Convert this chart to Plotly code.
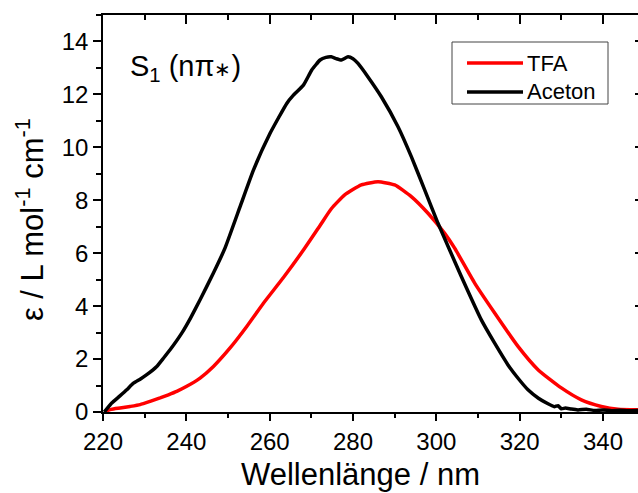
import plotly.graph_objects as go

# Aceton (black)
aceton_wl = [220.3, 222.1, 224.0, 225.7, 227.3, 229.0, 230.5, 232.9, 234.5, 236.1, 238.9, 241.0,
             243.3, 246.5, 249.3, 252.9, 256.1, 260.1, 264.1, 265.7, 268.1, 270.1, 272.1, 273.5,
             274.8, 276.0, 277.2, 278.8, 280.0, 281.2, 283.6, 286.8, 290.8, 294.0, 297.2, 300.4,
             303.2, 306.0, 308.5, 310.8, 314.0, 317.2, 320.0, 322.0, 324.5, 326.8, 328.3, 329.2,
             330.0, 331.0, 332.4, 334.0, 336.0, 338.0, 340.0, 342.0, 344.0, 346.0, 348.5]
aceton_eps = [0.0, 0.34, 0.6, 0.84, 1.09, 1.25, 1.41, 1.72, 2.03, 2.35, 2.98, 3.55,
              4.24, 5.25, 6.2, 7.76, 9.14, 10.53, 11.66, 11.97, 12.35, 12.92, 13.3, 13.4,
              13.42, 13.35, 13.3, 13.42, 13.35, 13.17, 12.66, 11.91, 10.78, 9.65, 8.39, 7.13,
              6.12, 5.12, 4.25, 3.48, 2.6, 1.78, 1.2, 0.84, 0.52, 0.31, 0.2, 0.24,
              0.12, 0.15, 0.11, 0.08, 0.1, 0.06, 0.08, 0.05, 0.07, 0.05, 0.06]

# TFA (red)
tfa_wl = [220.5, 222.0, 224.1, 226.5, 228.9, 231.3, 233.7, 235.7, 237.7, 240.1, 243.3, 246.5,
          250.5, 254.5, 258.5, 263.3, 268.1, 272.1, 274.8, 278.0, 282.0, 286.0, 290.0, 294.0,
          298.0, 302.0, 304.4, 309.2, 314.0, 319.6, 324.4, 330.0, 334.8, 339.6, 343.6, 348.5]
tfa_eps = [0.03, 0.1, 0.15, 0.21, 0.28, 0.4, 0.53, 0.65, 0.78, 0.97, 1.28, 1.72,
           2.42, 3.23, 4.11, 5.08, 6.12, 7.05, 7.68, 8.2, 8.58, 8.7, 8.58, 8.14,
           7.51, 6.75, 6.19, 4.87, 3.74, 2.48, 1.6, 0.91, 0.46, 0.21, 0.1, 0.08]

series_names = ["TFA", "Aceton"]
series_colors = ["#ff0000", "#000000"]

x_ticks = [220, 240, 260, 280, 300, 320, 340]
y_ticks = [0, 2, 4, 6, 8, 10, 12, 14]
x_range = [220, 348.4]
y_range = [0, 15]

FONT = "Liberation Sans, Arial, sans-serif"

# plot area in pixels (for converting legend layout positions to paper coords)
W, H = 638, 493
ML, MR, MT, MB = 103, 0, 15, 81
PW, PH = W - ML - MR, H - MT - MB


def px(x):
    return (x - ML) / PW


def py(y):
    return (H - MB - y) / PH


fig = go.Figure()
fig.add_trace(go.Scatter(x=tfa_wl, y=tfa_eps, mode="lines", name=series_names[0], showlegend=False,
                         line=dict(color=series_colors[0], width=3.5, shape="spline", smoothing=0.5)))
fig.add_trace(go.Scatter(x=aceton_wl, y=aceton_eps, mode="lines", name=series_names[1], showlegend=False,
                         line=dict(color=series_colors[1], width=3.5, shape="spline", smoothing=0.4)))
# helper trace for the mirrored top/right axes
fig.add_trace(go.Scatter(x=[x_range[0]], y=[y_range[0]], xaxis="x2", yaxis="y2", mode="markers",
                         marker=dict(opacity=0), showlegend=False, hoverinfo="skip"))

# legend drawn as box + line samples + labels
shapes = [dict(type="rect", xref="paper", yref="paper", x0=px(452), x1=px(608), y0=py(104), y1=py(42),
               line=dict(color="#444444", width=1), fillcolor="white", layer="above")]
annotations = []
for i, (name, col) in enumerate(zip(series_names, series_colors)):
    yy = 63 + 29 * i
    shapes.append(dict(type="line", xref="paper", yref="paper", x0=px(467), x1=px(523),
                       y0=py(yy), y1=py(yy), line=dict(color=col, width=3.5), layer="above"))
    annotations.append(dict(text=name, xref="paper", yref="paper", x=px(525), y=py(yy),
                            xanchor="left", yanchor="middle", showarrow=False,
                            font=dict(size=22, family=FONT, color="black")))

annotations += [
    dict(text="S<sub>1</sub> (nπ<span style='font-size:20px'>∗</span>)",
         xref="paper", yref="paper", x=0.154, y=0.866,
         xanchor="center", yanchor="middle", showarrow=False,
         font=dict(size=29, family=FONT, color="black")),
    dict(text="Wellenlänge / nm", xref="paper", yref="paper", x=0.481, y=-0.158,
         xanchor="center", yanchor="middle", showarrow=False,
         font=dict(size=31, family=FONT, color="black")),
    dict(text="ε / L mol<sup>-1</sup> cm<sup>-1</sup>", xref="paper", yref="paper",
         x=-0.136, y=0.484, xanchor="center", yanchor="middle", textangle=-90,
         showarrow=False, font=dict(size=31, family=FONT, color="black")),
]

fig.update_layout(
    width=W, height=H,
    margin=dict(l=ML, r=MR, t=MT, b=MB),
    paper_bgcolor="white", plot_bgcolor="white",
    font=dict(family=FONT, color="black"),
    showlegend=False,
    xaxis=dict(range=x_range, tickvals=x_ticks, ticks="outside", ticklen=7, tickwidth=1.5,
               tickcolor="black", showline=True, linewidth=1.5, linecolor="black",
               showgrid=False, zeroline=False, tickfont=dict(size=24, family=FONT),
               minor=dict(dtick=10, tick0=230, ticks="outside", ticklen=4, tickwidth=1.5,
                          tickcolor="black", showgrid=False)),
    yaxis=dict(range=y_range, tickvals=y_ticks, ticks="outside", ticklen=8, tickwidth=1.5,
               tickcolor="black", showline=True, linewidth=1.5, linecolor="black",
               showgrid=False, zeroline=False, tickfont=dict(size=24, family=FONT),
               minor=dict(dtick=1, tick0=1, ticks="outside", ticklen=5, tickwidth=1.5,
                          tickcolor="black", showgrid=False)),
    xaxis2=dict(range=x_range, overlaying="x", side="top", anchor="y2", tickvals=x_ticks,
                ticks="inside", ticklen=9, tickwidth=1.5, tickcolor="black",
                showticklabels=False, showline=True, linewidth=1.5, linecolor="black",
                showgrid=False, zeroline=False,
                minor=dict(dtick=10, tick0=230, ticks="inside", ticklen=5, tickwidth=1.5,
                           tickcolor="black", showgrid=False)),
    yaxis2=dict(range=y_range, overlaying="y", side="right", anchor="x2", tickvals=y_ticks,
                ticks="inside", ticklen=3, tickwidth=1.5, tickcolor="black",
                showticklabels=False, showline=False, showgrid=False, zeroline=False),
    shapes=shapes,
    annotations=annotations,
)

fig.write_html("out.html", config={"displayModeBar": False},
               post_script="document.body.style.margin='0px';")
